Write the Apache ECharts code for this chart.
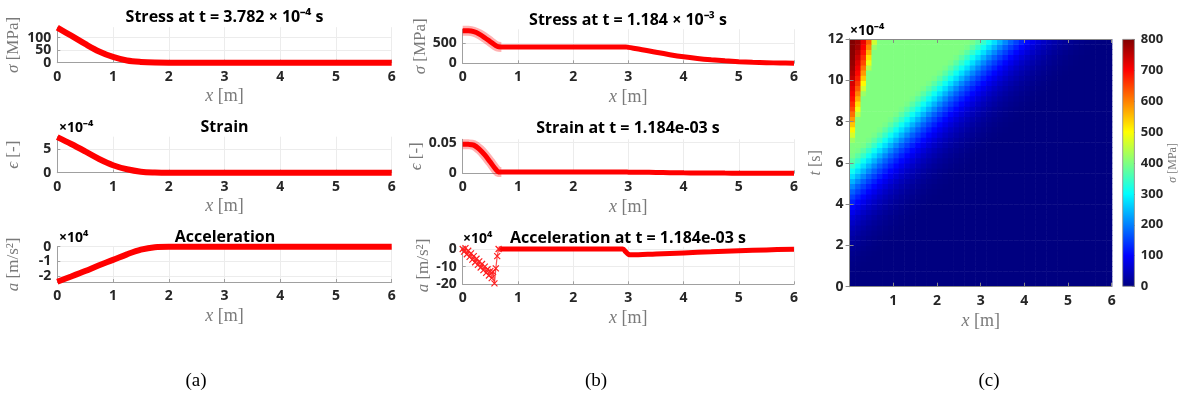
<!DOCTYPE html>
<html>
<head>
<meta charset="utf-8">
<script src="https://cdn.jsdelivr.net/npm/echarts@6/dist/echarts.min.js"></script>
<style>
  html, body { margin: 0; padding: 0; background: #fff; }
  #chart { width: 1180px; height: 396px; }
</style>
</head>
<body>
<div id="chart"></div>
<script>
// (a) profiles at t = 3.782e-4 s
const xA = [0, 0.25, 0.5, 0.75, 1, 1.25, 1.5, 1.75, 2, 3, 4, 5, 6]
const stressA = [140, 108, 75, 45, 23, 9, 3, 0.5, 0, 0, 0, 0, 0]           // MPa
const strainA = [7.5e-4, 6.05e-4, 4.5e-4, 2.9e-4, 1.57e-4, 0.72e-4, 0.22e-4, 0.05e-4, 0, 0, 0, 0, 0]
const accA = [-23900, -20300, -16600, -12700, -9000, -5200, -2000, -300, 0, 0, 0, 0, 0] // m/s^2

// (b) profiles at t = 1.184e-3 s
const xB = [0, 0.1, 0.2, 0.3, 0.4, 0.5, 0.6, 0.65, 0.7, 1, 2, 2.95, 3.0, 3.25, 3.5, 3.75, 4, 4.25, 4.5, 4.75, 5, 5.25, 5.5, 5.75, 6]
const stressB = [815, 812, 790, 730, 640, 540, 440, 412, 410, 410, 410, 410, 398, 340, 275, 215, 163, 122, 89, 62, 41, 25, 15, 7, 3]
const strainB = [0.0475, 0.0473, 0.046, 0.0395, 0.030, 0.0183, 0.0063, 0.0022, 0.002, 0.002, 0.002, 0.002, 0.0019, 0.0017, 0.0014, 0.0011, 0.0008, 0.0006, 0.00045, 0.0003, 0.0002, 0.00013, 0.00008, 0.00004, 0.00002]
// acceleration: noisy front part (markers) and the smooth remainder
const xBnoisy = [0, 0.025, 0.05, 0.075, 0.1, 0.125, 0.15, 0.175, 0.2, 0.225, 0.25, 0.275, 0.3, 0.325, 0.35, 0.375, 0.4, 0.425, 0.45, 0.475, 0.5, 0.525, 0.55, 0.575, 0.6, 0.625, 0.65]
const accBnoisy = [0, -15000, 5000, -30000, -10000, -45000, -25000, -60000, -40000, -75000, -55000, -90000, -70000, -105000, -85000, -120000, -100000, -135000, -115000, -150000, -125000, -165000, -130000, -195000, -110000, -40000, 0]
const xBsmooth = [0.65, 1, 2, 2.9, 2.95, 3.0, 3.05, 3.5, 4, 4.5, 5, 5.5, 6]
const accBsmooth = [0, 0, 0, 0, -15000, -30000, -33000, -28000, -22000, -16000, -10000, -5000, -1000]

// (c) stress field sigma(x, t) in MPa, cell centres; t in units of 1e-4 s
const heatX = [
  0.0625, 0.1875, 0.3125, 0.4375, 0.5625, 0.6875, 0.8125, 0.9375,
  1.0625, 1.1875, 1.3125, 1.4375, 1.5625, 1.6875, 1.8125, 1.9375,
  2.0625, 2.1875, 2.3125, 2.4375, 2.5625, 2.6875, 2.8125, 2.9375,
  3.0625, 3.1875, 3.3125, 3.4375, 3.5625, 3.6875, 3.8125, 3.9375,
  4.0625, 4.1875, 4.3125, 4.4375, 4.5625, 4.6875, 4.8125, 4.9375,
  5.0625, 5.1875, 5.3125, 5.4375, 5.5625, 5.6875, 5.8125, 5.9375
]
const heatT = [
  0.125, 0.375, 0.625, 0.875, 1.125, 1.375, 1.625, 1.875,
  2.125, 2.375, 2.625, 2.875, 3.125, 3.375, 3.625, 3.875,
  4.125, 4.375, 4.625, 4.875, 5.125, 5.375, 5.625, 5.875,
  6.125, 6.375, 6.625, 6.875, 7.125, 7.375, 7.625, 7.875,
  8.125, 8.375, 8.625, 8.875, 9.125, 9.375, 9.625, 9.875,
  10.125, 10.375, 10.625, 10.875, 11.125, 11.375, 11.625, 11.875
]
const heatStress = [
  [0,0,0,0,0,0,0,0, 0,0,0,0,0,0,0,0, 0,0,0,0,0,0,0,0, 0,0,0,0,0,0,0,0, 0,0,0,0,0,0,0,0, 0,0,0,0,0,0,0,0],
  [0,0,0,0,0,0,0,0, 0,0,0,0,0,0,0,0, 0,0,0,0,0,0,0,0, 0,0,0,0,0,0,0,0, 0,0,0,0,0,0,0,0, 0,0,0,0,0,0,0,0],
  [1,0,0,0,0,0,0,0, 0,0,0,0,0,0,0,0, 0,0,0,0,0,0,0,0, 0,0,0,0,0,0,0,0, 0,0,0,0,0,0,0,0, 0,0,0,0,0,0,0,0],
  [2,1,0,0,0,0,0,0, 0,0,0,0,0,0,0,0, 0,0,0,0,0,0,0,0, 0,0,0,0,0,0,0,0, 0,0,0,0,0,0,0,0, 0,0,0,0,0,0,0,0],
  [4,2,1,0,0,0,0,0, 0,0,0,0,0,0,0,0, 0,0,0,0,0,0,0,0, 0,0,0,0,0,0,0,0, 0,0,0,0,0,0,0,0, 0,0,0,0,0,0,0,0],
  [7,4,2,1,0,0,0,0, 0,0,0,0,0,0,0,0, 0,0,0,0,0,0,0,0, 0,0,0,0,0,0,0,0, 0,0,0,0,0,0,0,0, 0,0,0,0,0,0,0,0],
  [10,7,4,2,1,0,0,0, 0,0,0,0,0,0,0,0, 0,0,0,0,0,0,0,0, 0,0,0,0,0,0,0,0, 0,0,0,0,0,0,0,0, 0,0,0,0,0,0,0,0],
  [15,10,7,4,2,1,0,0, 0,0,0,0,0,0,0,0, 0,0,0,0,0,0,0,0, 0,0,0,0,0,0,0,0, 0,0,0,0,0,0,0,0, 0,0,0,0,0,0,0,0],
  [20,15,10,7,4,2,1,0, 0,0,0,0,0,0,0,0, 0,0,0,0,0,0,0,0, 0,0,0,0,0,0,0,0, 0,0,0,0,0,0,0,0, 0,0,0,0,0,0,0,0],
  [27,20,15,10,7,4,2,1, 0,0,0,0,0,0,0,0, 0,0,0,0,0,0,0,0, 0,0,0,0,0,0,0,0, 0,0,0,0,0,0,0,0, 0,0,0,0,0,0,0,0],
  [35,27,20,15,10,7,4,2, 1,0,0,0,0,0,0,0, 0,0,0,0,0,0,0,0, 0,0,0,0,0,0,0,0, 0,0,0,0,0,0,0,0, 0,0,0,0,0,0,0,0],
  [44,35,27,20,15,10,7,4, 2,1,0,0,0,0,0,0, 0,0,0,0,0,0,0,0, 0,0,0,0,0,0,0,0, 0,0,0,0,0,0,0,0, 0,0,0,0,0,0,0,0],
  [55,44,35,27,20,15,10,7, 4,2,1,0,0,0,0,0, 0,0,0,0,0,0,0,0, 0,0,0,0,0,0,0,0, 0,0,0,0,0,0,0,0, 0,0,0,0,0,0,0,0],
  [69,55,44,35,27,20,15,10, 7,4,2,1,0,0,0,0, 0,0,0,0,0,0,0,0, 0,0,0,0,0,0,0,0, 0,0,0,0,0,0,0,0, 0,0,0,0,0,0,0,0],
  [85,69,55,44,35,27,20,15, 10,7,4,2,1,0,0,0, 0,0,0,0,0,0,0,0, 0,0,0,0,0,0,0,0, 0,0,0,0,0,0,0,0, 0,0,0,0,0,0,0,0],
  [104,85,69,55,44,35,27,20, 15,10,7,4,2,1,0,0, 0,0,0,0,0,0,0,0, 0,0,0,0,0,0,0,0, 0,0,0,0,0,0,0,0, 0,0,0,0,0,0,0,0],
  [125,104,85,69,55,44,35,27, 20,15,10,7,4,2,1,0, 0,0,0,0,0,0,0,0, 0,0,0,0,0,0,0,0, 0,0,0,0,0,0,0,0, 0,0,0,0,0,0,0,0],
  [149,125,104,85,69,55,44,35, 27,20,15,10,7,4,2,1, 0,0,0,0,0,0,0,0, 0,0,0,0,0,0,0,0, 0,0,0,0,0,0,0,0, 0,0,0,0,0,0,0,0],
  [175,149,125,104,85,69,55,44, 35,27,20,15,10,7,4,2, 1,0,0,0,0,0,0,0, 0,0,0,0,0,0,0,0, 0,0,0,0,0,0,0,0, 0,0,0,0,0,0,0,0],
  [206,175,149,125,104,85,69,55, 44,35,27,20,15,10,7,4, 2,1,0,0,0,0,0,0, 0,0,0,0,0,0,0,0, 0,0,0,0,0,0,0,0, 0,0,0,0,0,0,0,0],
  [240,206,175,149,125,104,85,69, 55,44,35,27,20,15,10,7, 4,2,1,0,0,0,0,0, 0,0,0,0,0,0,0,0, 0,0,0,0,0,0,0,0, 0,0,0,0,0,0,0,0],
  [275,240,206,175,149,125,104,85, 69,55,44,35,27,20,15,10, 7,4,2,1,0,0,0,0, 0,0,0,0,0,0,0,0, 0,0,0,0,0,0,0,0, 0,0,0,0,0,0,0,0],
  [310,275,240,206,175,149,125,104, 85,69,55,44,35,27,20,15, 10,7,4,2,1,0,0,0, 0,0,0,0,0,0,0,0, 0,0,0,0,0,0,0,0, 0,0,0,0,0,0,0,0],
  [342,310,275,240,206,175,149,125, 104,85,69,55,44,35,27,20, 15,10,7,4,2,1,0,0, 0,0,0,0,0,0,0,0, 0,0,0,0,0,0,0,0, 0,0,0,0,0,0,0,0],
  [370,342,310,275,240,206,175,149, 125,104,85,69,55,44,35,27, 20,15,10,7,4,2,1,0, 0,0,0,0,0,0,0,0, 0,0,0,0,0,0,0,0, 0,0,0,0,0,0,0,0],
  [392,370,342,310,275,240,206,175, 149,125,104,85,69,55,44,35, 27,20,15,10,7,4,2,1, 0,0,0,0,0,0,0,0, 0,0,0,0,0,0,0,0, 0,0,0,0,0,0,0,0],
  [400,392,370,342,310,275,240,206, 175,149,125,104,85,69,55,44, 35,27,20,15,10,7,4,2, 1,0,0,0,0,0,0,0, 0,0,0,0,0,0,0,0, 0,0,0,0,0,0,0,0],
  [400,400,392,370,342,310,275,240, 206,175,149,125,104,85,69,55, 44,35,27,20,15,10,7,4, 2,1,0,0,0,0,0,0, 0,0,0,0,0,0,0,0, 0,0,0,0,0,0,0,0],
  [424,400,400,392,370,342,310,275, 240,206,175,149,125,104,85,69, 55,44,35,27,20,15,10,7, 4,2,1,0,0,0,0,0, 0,0,0,0,0,0,0,0, 0,0,0,0,0,0,0,0],
  [467,400,400,400,392,370,342,310, 275,240,206,175,149,125,104,85, 69,55,44,35,27,20,15,10, 7,4,2,1,0,0,0,0, 0,0,0,0,0,0,0,0, 0,0,0,0,0,0,0,0],
  [508,400,400,400,400,392,370,342, 310,275,240,206,175,149,125,104, 85,69,55,44,35,27,20,15, 10,7,4,2,1,0,0,0, 0,0,0,0,0,0,0,0, 0,0,0,0,0,0,0,0],
  [546,400,400,400,400,400,392,370, 342,310,275,240,206,175,149,125, 104,85,69,55,44,35,27,20, 15,10,7,4,2,1,0,0, 0,0,0,0,0,0,0,0, 0,0,0,0,0,0,0,0],
  [582,404,400,400,400,400,400,392, 370,342,310,275,240,206,175,149, 125,104,85,69,55,44,35,27, 20,15,10,7,4,2,1,0, 0,0,0,0,0,0,0,0, 0,0,0,0,0,0,0,0],
  [615,445,400,400,400,400,400,400, 392,370,342,310,275,240,206,175, 149,125,104,85,69,55,44,35, 27,20,15,10,7,4,2,1, 0,0,0,0,0,0,0,0, 0,0,0,0,0,0,0,0],
  [645,487,400,400,400,400,400,400, 400,392,370,342,310,275,240,206, 175,149,125,104,85,69,55,44, 35,27,20,15,10,7,4,2, 1,0,0,0,0,0,0,0, 0,0,0,0,0,0,0,0],
  [667,526,400,400,400,400,400,400, 400,400,392,370,342,310,275,240, 206,175,149,125,104,85,69,55, 44,35,27,20,15,10,7,4, 2,1,0,0,0,0,0,0, 0,0,0,0,0,0,0,0],
  [688,564,400,400,400,400,400,400, 400,400,400,392,370,342,310,275, 240,206,175,149,125,104,85,69, 55,44,35,27,20,15,10,7, 4,2,1,0,0,0,0,0, 0,0,0,0,0,0,0,0],
  [703,598,421,400,400,400,400,400, 400,400,400,400,392,370,342,310, 275,240,206,175,149,125,104,85, 69,55,44,35,27,20,15,10, 7,4,2,1,0,0,0,0, 0,0,0,0,0,0,0,0],
  [718,630,463,400,400,400,400,400, 400,400,400,400,400,392,370,342, 310,275,240,206,175,149,125,104, 85,69,55,44,35,27,20,15, 10,7,4,2,1,0,0,0, 0,0,0,0,0,0,0,0],
  [733,656,505,400,400,400,400,400, 400,400,400,400,400,400,392,370, 342,310,275,240,206,175,149,125, 104,85,69,55,44,35,27,20, 15,10,7,4,2,1,0,0, 0,0,0,0,0,0,0,0],
  [748,678,543,400,400,400,400,400, 400,400,400,400,400,400,400,392, 370,342,310,275,240,206,175,149, 125,104,85,69,55,44,35,27, 20,15,10,7,4,2,1,0, 0,0,0,0,0,0,0,0],
  [763,696,580,400,400,400,400,400, 400,400,400,400,400,400,400,400, 392,370,342,310,275,240,206,175, 149,125,104,85,69,55,44,35, 27,20,15,10,7,4,2,1, 0,0,0,0,0,0,0,0],
  [777,711,612,440,400,400,400,400, 400,400,400,400,400,400,400,400, 400,392,370,342,310,275,240,206, 175,149,125,104,85,69,55,44, 35,27,20,15,10,7,4,2, 1,0,0,0,0,0,0,0],
  [784,726,643,482,400,400,400,400, 400,400,400,400,400,400,400,400, 400,400,392,370,342,310,275,240, 206,175,149,125,104,85,69,55, 44,35,27,20,15,10,7,4, 2,1,0,0,0,0,0,0],
  [791,741,666,522,400,400,400,400, 400,400,400,400,400,400,400,400, 400,400,400,392,370,342,310,275, 240,206,175,149,125,104,85,69, 55,44,35,27,20,15,10,7, 4,2,1,0,0,0,0,0],
  [794,756,687,559,400,400,400,400, 400,400,400,400,400,400,400,400, 400,400,400,400,392,370,342,310, 275,240,206,175,149,125,104,85, 69,55,44,35,27,20,15,10, 7,4,2,1,0,0,0,0],
  [797,771,702,594,418,400,400,400, 400,400,400,400,400,400,400,400, 400,400,400,400,400,392,370,342, 310,275,240,206,175,149,125,104, 85,69,55,44,35,27,20,15, 10,7,4,2,1,0,0,0],
  [799,780,717,626,460,400,400,400, 400,400,400,400,400,400,400,400, 400,400,400,400,400,400,392,370, 342,310,275,240,206,175,149,125, 104,85,69,55,44,35,27,20, 15,10,7,4,2,1,0,0]
]
const cellW = 0.125, cellH = 0.25

const jet = ['#000080', '#0000ff', '#0080ff', '#00ffff', '#80ff80', '#ffff00', '#ff8000', '#ff0000', '#800000']

const GRAY = '#a0a0a0'
const LABEL = { color: '#262626', fontFamily: 'Open Sans', fontWeight: 'bold', fontSize: 14 }
const SERIF = 'Liberation Serif'
const nameStyle = (size) => ({
  color: '#7a7a7a', fontFamily: SERIF, fontSize: size,
  rich: { i: { fontStyle: 'italic', color: '#7a7a7a', fontFamily: SERIF, fontSize: size } }
})

// line plot grids: [left, top, width, height]
const grids = [
  [57.3, 27.2, 334.4, 35.5],
  [57.3, 136.7, 334.4, 36],
  [57.3, 246.7, 334.4, 35.3],
  [462.7, 29.3, 331.3, 34],
  [462.7, 139.3, 331.3, 34],
  [462.7, 246.7, 331.3, 37.6]
]

function xAx(g) {
  return {
    type: 'value', gridIndex: g, min: 0, max: 6, interval: 1,
    axisLine: { show: true, onZero: false, lineStyle: { color: GRAY } },
    axisTick: { show: true, inside: true, length: 3, lineStyle: { color: GRAY } },
    axisLabel: { ...LABEL, margin: 7 },
    splitLine: { show: true, lineStyle: { color: '#ececec' } },
    name: '{i|x} [m]', nameLocation: 'middle', nameGap: 25, nameTextStyle: nameStyle(18)
  }
}

function yAx(g, min, max, ticks, labels, fmt, name, gap) {
  return {
    type: 'value', gridIndex: g, min: min, max: max,
    axisLine: { show: true, lineStyle: { color: GRAY } },
    axisTick: { show: true, inside: true, length: 3, lineStyle: { color: GRAY }, customValues: ticks },
    axisLabel: { ...LABEL, margin: 6, customValues: labels, formatter: fmt, showMinLabel: true, showMaxLabel: true },
    splitLine: { show: true, lineStyle: { color: '#ececec' } },
    name: name, nameLocation: 'middle', nameGap: gap, nameTextStyle: nameStyle(17)
  }
}

function line(g, xs, ys, width, extra) {
  return Object.assign({
    type: 'line', xAxisIndex: g, yAxisIndex: g,
    data: xs.map((x, i) => [x, ys[i]]),
    smooth: 0.35, symbol: 'none', clip: false, silent: true,
    lineStyle: { color: '#ff0000', width: width }, z: 3
  }, extra || {})
}

const heatData = []
heatT.forEach((t, i) => heatX.forEach((x, j) => heatData.push([x, t, heatStress[i][j]])))

function renderCell(params, api) {
  const x = api.value(0), t = api.value(1)
  const p0 = api.coord([x - cellW / 2, t + cellH / 2])
  const p1 = api.coord([x + cellW / 2, t - cellH / 2])
  return {
    type: 'rect',
    shape: { x: p0[0], y: p0[1], width: p1[0] - p0[0] + 0.6, height: p1[1] - p0[1] + 0.6 },
    style: { fill: api.visual('color') }
  }
}

const xMark = 'path://M0,0L10,10M10,0L0,10'
const same = (v) => v
const div1e4 = (v) => Math.round(v / 1e4)

const xAxes = grids.map((_, g) => xAx(g))
xAxes.push({
  type: 'value', gridIndex: 6, min: 0, max: 6, interval: 1, z: 10,
  axisLine: { show: true, onZero: false, lineStyle: { color: '#888' } },
  axisTick: { show: true, inside: true, length: 4, lineStyle: { color: '#888' } },
  axisLabel: { ...LABEL, margin: 7, formatter: (v) => v === 0 ? '' : v },
  splitLine: { show: false },
  name: '{i|x} [m]', nameLocation: 'middle', nameGap: 22, nameTextStyle: nameStyle(18)
})
xAxes.push({ type: 'category', gridIndex: 7, data: [''], show: false })
xAxes.push({
  type: 'value', gridIndex: 6, position: 'top', min: 0, max: 6, interval: 1, z: 10,
  axisLine: { show: true, onZero: false, lineStyle: { color: '#888' } },
  axisTick: { show: true, inside: true, length: 4, lineStyle: { color: '#888' } },
  axisLabel: { show: false }, splitLine: { show: false }
})

const yAxes = [
  yAx(0, 0, 142, [0, 50, 100], [0, 100], same, '{i|σ} [MPa]', 35),
  yAx(1, 0, 7.6e-4, [0, 5e-4], [0, 5e-4], (v) => Math.round(v * 1e4), '{i|ϵ} [-]', 35),
  yAx(2, -24100, 0, [-20000, -10000, 0], [-20000, -10000, 0], div1e4, '{i|a} [m/s²]', 35),
  yAx(3, 0, 850, [0, 500], [0, 500], same, '{i|σ} [MPa]', 29),
  yAx(4, 0, 0.0555, [0, 0.05], [0, 0.05], same, '{i|ϵ} [-]', 29),
  yAx(5, -200000, 13000, [-200000, -100000, 0], [-200000, -100000, 0], div1e4, '{i|a} [m/s²]', 29),
  {
    type: 'value', gridIndex: 6, min: 0, max: 12, interval: 2, z: 10,
    axisLine: { show: true, lineStyle: { color: '#888' } },
    axisTick: { show: true, inside: true, length: 4, lineStyle: { color: '#888' } },
    axisLabel: { ...LABEL, margin: 6 },
    splitLine: { show: false },
    name: '{i|t} [s]', nameLocation: 'middle', nameGap: 26, nameTextStyle: nameStyle(16)
  },
  {
    type: 'value', gridIndex: 7, position: 'right', min: 0, max: 800, interval: 100,
    axisLine: { show: false },
    axisTick: { show: true, inside: true, length: 3, lineStyle: { color: '#888' } },
    axisLabel: { ...LABEL, fontSize: 13, margin: 6 },
    splitLine: { show: false },
    name: '{i|σ} [MPa]', nameLocation: 'middle', nameRotate: 90, nameGap: 30, nameTextStyle: nameStyle(12)
  },
  {
    type: 'value', gridIndex: 6, position: 'right', min: 0, max: 12, interval: 2, z: 10,
    axisLine: { show: true, lineStyle: { color: '#888' } },
    axisTick: { show: true, inside: true, length: 4, lineStyle: { color: '#888' } },
    axisLabel: { show: false }, splitLine: { show: false }
  },
  {
    // middle label of the top-left stress axis (kept on its own axis so it is not hidden as overlapping)
    type: 'value', gridIndex: 0, position: 'left', min: 0, max: 142,
    axisLine: { show: false }, axisTick: { show: false }, splitLine: { show: false },
    axisLabel: { ...LABEL, margin: 6, customValues: [50] }
  }
]

const gridList = grids.map(([l, t, w, h]) => ({ left: l, top: t, width: w, height: h }))
gridList.push({ left: 849.6, top: 39, width: 262.1, height: 247.7 })
gridList.push({ left: 1122.3, top: 39, width: 13.4, height: 247.7 })

const TITLE_FONT = 'bold 16px "Open Sans"'
const MULT_FONT = 'bold 14px "Open Sans"'
function txt(text, x, y, font, align) {
  return { type: 'text', x: x, y: y, silent: true,
    style: { text: text, font: font, fill: '#000', align: align || 'center', verticalAlign: 'middle' } }
}

const option = {
  animation: false,
  grid: gridList,
  xAxis: xAxes,
  yAxis: yAxes,
  visualMap: {
    type: 'continuous', show: false, min: 0, max: 800, dimension: 2, seriesIndex: 0,
    inRange: { color: jet }
  },
  series: [
    { type: 'custom', xAxisIndex: 6, yAxisIndex: 6, data: heatData, renderItem: renderCell, silent: true, clip: true },
    {
      type: 'bar', xAxisIndex: 7, yAxisIndex: 7, data: [800], barWidth: '100%', silent: true,
      itemStyle: {
        borderColor: '#888', borderWidth: 0.8,
        color: {
          type: 'linear', x: 0, y: 0, x2: 0, y2: 1,
          colorStops: jet.slice().reverse().map((c, i) => ({ offset: i / 8, color: c }))
        }
      }
    },
    line(0, xA, stressA, 6),
    line(1, xA, strainA, 6),
    line(2, xA, accA, 6),
    line(3, xB.slice(0, 9), stressB.slice(0, 9), 10, { lineStyle: { color: 'rgba(255,0,0,0.3)', width: 10 } }),
    line(3, xB, stressB, 5),
    line(4, xB.slice(0, 9), strainB.slice(0, 9), 10, { lineStyle: { color: 'rgba(255,0,0,0.3)', width: 10 } }),
    line(4, xB, strainB, 5),
    line(5, xBnoisy, accBnoisy, 1, {
      smooth: false, symbol: xMark, symbolSize: 6, showSymbol: true,
      itemStyle: { color: 'transparent', borderColor: '#ff2020', borderWidth: 1.2 },
      lineStyle: { color: 'rgba(255,0,0,0.7)', width: 1.2 }
    }),
    line(5, xBsmooth, accBsmooth, 5)
  ],
  graphic: [
    txt('Stress at t = 3.782 × 10⁻⁴ s', 224.5, 17, TITLE_FONT),
    txt('Strain', 224.5, 127, TITLE_FONT),
    txt('Acceleration', 225, 237, TITLE_FONT),
    txt('Stress at t = 1.184 × 10⁻³ s', 628, 20, TITLE_FONT),
    txt('Strain at t = 1.184e-03 s', 628, 128, TITLE_FONT),
    txt('Acceleration at t = 1.184e-03 s', 628, 238, TITLE_FONT),
    txt('×10⁻⁴', 59, 128, MULT_FONT, 'left'),
    txt('×10⁴', 59, 238, MULT_FONT, 'left'),
    txt('×10⁴', 463, 239, MULT_FONT, 'left'),
    txt('×10⁻⁴', 850, 31, MULT_FONT, 'left'),
    txt('(a)', 196, 381, '19px "Liberation Serif"'),
    txt('(b)', 596, 381, '19px "Liberation Serif"'),
    txt('(c)', 989, 381, '19px "Liberation Serif"')
  ]
}

const chart = echarts.init(document.getElementById('chart'))
chart.setOption(option)
</script>
</body>
</html>
